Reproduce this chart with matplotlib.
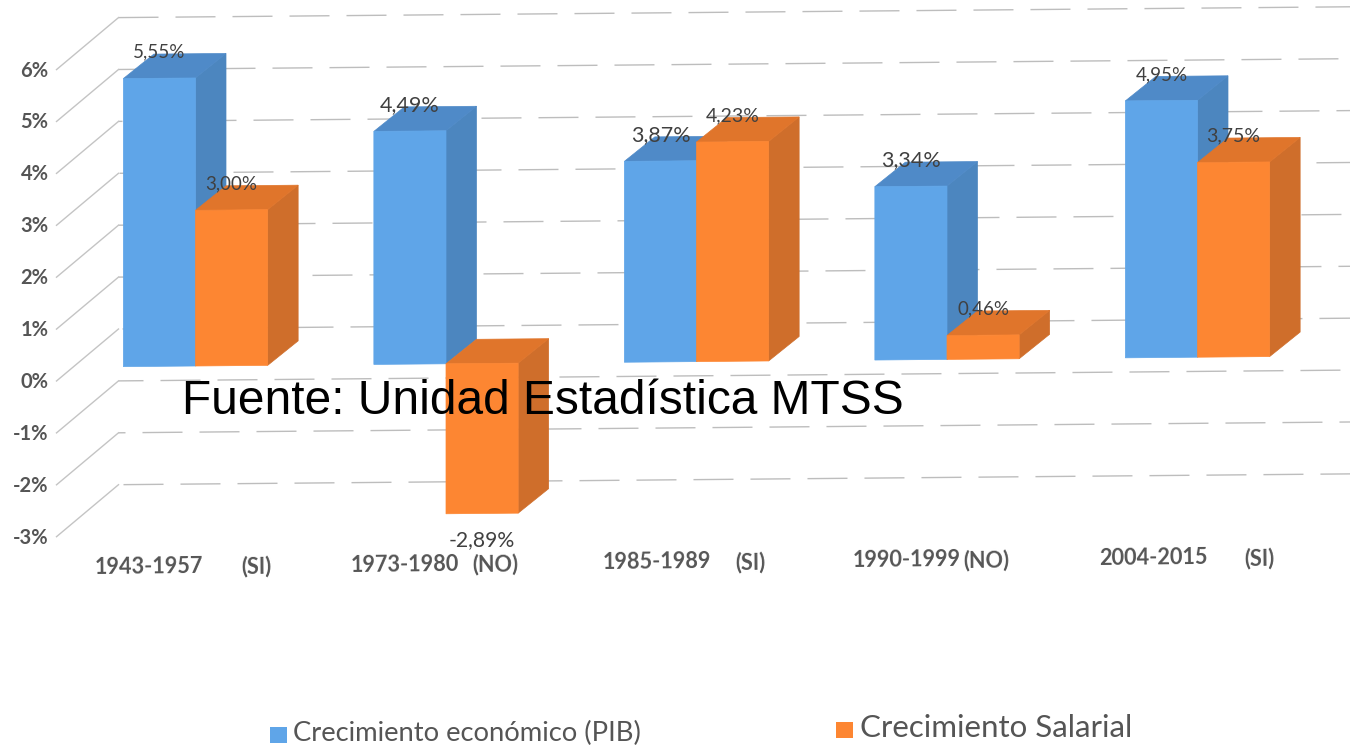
import matplotlib
matplotlib.use("Agg")
import matplotlib.pyplot as plt
from matplotlib.patches import Polygon, Rectangle
from matplotlib.transforms import Affine2D

periods = ["1943-1957", "1973-1980", "1985-1989", "1990-1999", "2004-2015"]
verdicts = ["(SI)", "(NO)", "(SI)", "(NO)", "(SI)"]
pib = [5.55, 4.49, 3.87, 3.34, 4.95]
salarios = [3.00, -2.89, 4.23, 0.46, 3.75]
y_ticks = [6, 5, 4, 3, 2, 1, 0, -1, -2, -3]
fuente = "Fuente: Unidad Estadística MTSS"
leyenda = ["Crecimiento económico (PIB)", "Crecimiento Salarial"]

BLUE = ("#5FA5E8", "#4C86BF", "#4F8AC8")  # front, side, top
ORANGE = ("#FD8632", "#CF6E2B", "#E0752B")
GRAY = "#555555"
BAR_W = 0.288

fig = plt.figure(figsize=(13.5, 7.45), dpi=100)
ax = fig.add_axes([0, 0, 1, 1])
ax.set_xlim(0, 1350)
ax.set_ylim(745, 0)
ax.axis("off")

### tilted chart plane: (group, percent) -> image pixels ###
front = Affine2D.from_values(250.5, -2.2, 0, -51.9, 195.5, 366) + ax.transData


def shifted(dx, dy):
    # dy is in image pixels, downwards
    return front + Affine2D().translate(dx, -dy)


depth = shifted(30.5, -24.5)
wall = shifted(-77, -37)
wall_front = shifted(-139, 15)

### back wall ###
phases = [0, 17, 36, 56, 14, 34, 53, 15, 33, 52]  # where the dashes start, px
lw = 1.0
for v, phase in zip(y_ticks, phases):
    k = 0.72 / lw
    ax.plot([0, 4.93], [v, v], transform=wall, color="#BDBDBD", lw=lw,
            ls=(phase * k, (40 * k, 17 * k)), dash_capstyle="butt", zorder=1)
    x0, y0 = wall_front.transform((0, v))
    x1, y1 = wall.transform((0, v))
    ax.plot([x0, x1], [y0, y1], transform=None, color="#C4C4C4", lw=lw, zorder=1)
    ax.annotate(f"{v}%", (0, v), xycoords=wall_front, xytext=(-8, -1),
                textcoords="offset pixels", ha="right", va="center",
                family="Lato", fontweight="bold", fontsize=14.5, color=GRAY)


### bars ###
def bar3d(left, value, colors, z):
    x = [left, left + BAR_W]
    # side face
    a = front.transform([(x[1], 0), (x[1], value)])
    b = depth.transform([(x[1], value), (x[1], 0)])
    ax.add_patch(Polygon(list(a) + list(b), transform=None, fc=colors[1], ec=colors[1], lw=0.5, zorder=z))
    # top face
    level = max(value, 0)
    a = front.transform([(x[0], level), (x[1], level)])
    b = depth.transform([(x[1], level), (x[0], level)])
    ax.add_patch(Polygon(list(a) + list(b), transform=None, fc=colors[2], ec=colors[2], lw=0.5, zorder=z))
    # front face
    ax.add_patch(Rectangle((x[0], 0), BAR_W, value, transform=front, fc=colors[0], ec=colors[0], lw=0.5, zorder=z + 0.1))


def value_label(center, value, size):
    txt = f"{value:.2f}%".replace(".", ",")
    off = -26 if value >= 0 else 27
    ax.annotate(txt, (center, value), xycoords=front, xytext=(0, -off),
                textcoords="offset pixels", ha="center", va="center",
                family="Lato", fontsize=size, color="#404040", zorder=20)


pib_sizes = [13.5, 15.5, 15.5, 15.5, 13.5]
sal_sizes = [13.5, 15.2, 14, 13.5, 14]
verdict_dx = [61, 49, 54, 39, 62]
period_dx = [-47, -41, -40, -40, -44]

for i in range(len(periods)):
    bar3d(i - BAR_W, pib[i], BLUE, 3 + i)
    bar3d(i, salarios[i], ORANGE, 3.5 + i)
    value_label(i - BAR_W / 2, pib[i], pib_sizes[i])
    value_label(i + BAR_W / 2, salarios[i], sal_sizes[i])

### category labels ###
for i in range(len(periods)):
    ax.annotate(periods[i], (i, -3), xycoords=front, xytext=(period_dx[i], -45),
                textcoords="offset pixels", ha="center", va="center", rotation=0.6,
                family="Lato", fontweight="bold", fontsize=15.6, color=GRAY)
    ax.annotate(verdicts[i], (i, -3), xycoords=front, xytext=(verdict_dx[i], -45),
                textcoords="offset pixels", ha="center", va="center", rotation=0.6,
                family="Lato", fontweight="bold", fontsize=15.6, color=GRAY, zorder=15)

### source note over the chart ###
ax.text(182, 402, fuente, family="Liberation Sans", fontsize=34.5, color="black",
        ha="left", va="center", zorder=30)

### legend ###
ax.add_patch(Rectangle((270, 727), 17, 16, fc=BLUE[0], ec="none"))
ax.add_patch(Rectangle((836, 722), 17, 16, fc=ORANGE[0], ec="none"))
ax.text(293, 733, leyenda[0], family="Lato", fontsize=19.7, color=GRAY, ha="left", va="center")
ax.text(860, 728, leyenda[1], family="Lato", fontsize=22.5, color=GRAY, ha="left", va="center")

fig.savefig("out.png", dpi=100)
